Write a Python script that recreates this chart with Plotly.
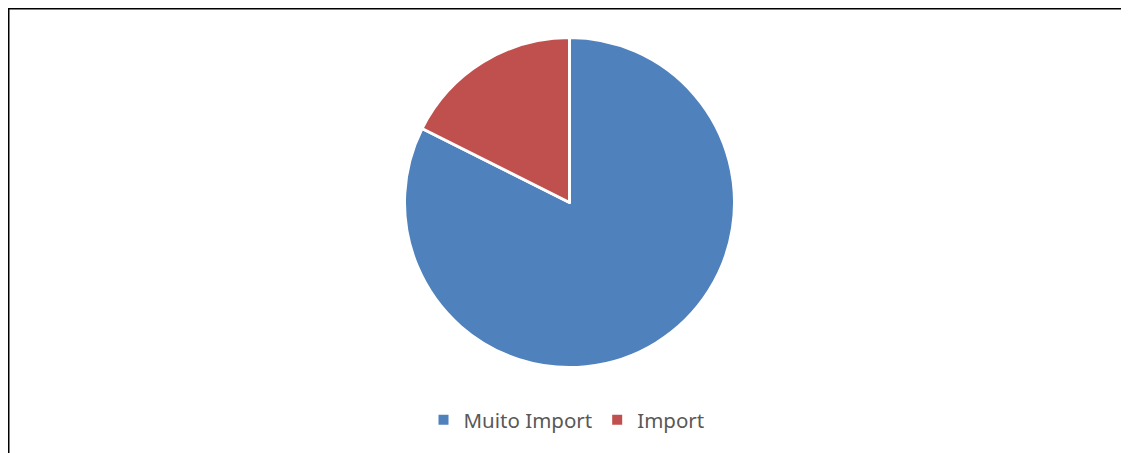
import plotly.graph_objects as go

labels = ["Muito Import", "Import"]
values = [82.4, 17.6]
colors = ["#4F81BD", "#C0504D"]

# the page body adds an 8px margin; figure coords = page coords - 8
W, H = 1121, 445
cx, cy, r = 561.5, 194.5, 165

fig = go.Figure(go.Pie(
    labels=labels,
    values=values,
    sort=False,
    direction="clockwise",
    rotation=0,
    textinfo="none",
    hoverinfo="label+value+percent",
    marker=dict(colors=colors, line=dict(color="white", width=3)),
    domain=dict(x=[(cx - r) / W, (cx + r) / W], y=[1 - (cy + r) / H, 1 - (cy - r) / H]),
))

fig.update_layout(
    width=W, height=H,
    margin=dict(l=0, r=0, t=0, b=0),
    paper_bgcolor="white",
    plot_bgcolor="white",
    showlegend=True,
    legend=dict(
        orientation="h",
        x=558.5 / W, xanchor="center",
        y=1 - 412 / H, yanchor="middle",
        font=dict(family="Noto Sans", size=20.5, color="#595959"),
        itemsizing="constant",
        tracegroupgap=0,
    ),
    shapes=[
        dict(type="line", xref="paper", yref="paper", x0=0, x1=1, y0=1 - 0.5 / H, y1=1 - 0.5 / H,
             line=dict(color="#000000", width=2)),
        dict(type="line", xref="paper", yref="paper", x0=0.5 / W, x1=0.5 / W, y0=0, y1=1,
             line=dict(color="#000000", width=2)),
    ],
)

fig.write_html("out.html")
